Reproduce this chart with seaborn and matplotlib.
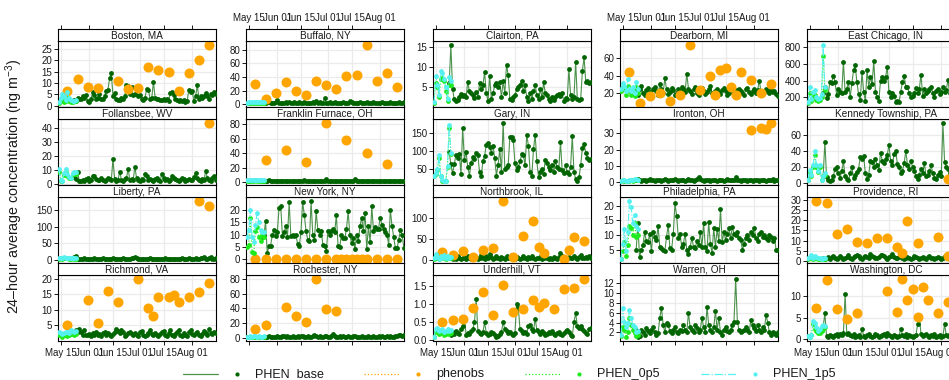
import numpy as np
import pandas as pd
import seaborn as sns
import matplotlib.pyplot as plt
import matplotlib.dates as mdates
from matplotlib.lines import Line2D

sites = ["Boston, MA", "Buffalo, NY", "Clairton, PA", "Dearborn, MI", "East Chicago, IN",
         "Follansbee, WV", "Franklin Furnace, OH", "Gary, IN", "Ironton, OH", "Kennedy Township, PA",
         "Liberty, PA", "New York, NY", "Northbrook, IL", "Philadelphia, PA", "Providence, RI",
         "Richmond, VA", "Rochester, NY", "Underhill, VT", "Warren, OH", "Washington, DC"]

start = pd.Timestamp("2011-05-14")   # day 0
base_first_day = 9                   # PHEN_base runs from May 23
tick_dates = ["2011-05-15", "2011-06-01", "2011-06-15", "2011-07-01", "2011-07-15", "2011-08-01"]

# y axis ticks per site
yticks = {
    "Boston, MA": [0, 5, 10, 15, 20, 25], "Buffalo, NY": [0, 20, 40, 60, 80],
    "Clairton, PA": [5, 10, 15], "Dearborn, MI": [20, 40, 60],
    "East Chicago, IN": [200, 400, 600, 800], "Follansbee, WV": [0, 10, 20, 30, 40],
    "Franklin Furnace, OH": [0, 20, 40, 60, 80], "Gary, IN": [50, 100, 150],
    "Ironton, OH": [0, 10, 20, 30], "Kennedy Township, PA": [0, 20, 40, 60],
    "Liberty, PA": [0, 50, 100, 150], "New York, NY": [0, 5, 10, 15, 20],
    "Northbrook, IL": [0, 50, 100], "Philadelphia, PA": [5, 10, 15, 20],
    "Providence, RI": [0, 5, 10, 15, 20, 25, 30], "Richmond, VA": [5, 10, 15, 20],
    "Rochester, NY": [0, 20, 40, 60, 80], "Underhill, VT": [0.0, 0.5, 1.0, 1.5],
    "Warren, OH": [2, 4, 6, 8, 10, 12], "Washington, DC": [0, 5, 10],
}

# PHEN_base, daily from May 23
phen_base = {
    "Boston, MA": [2.5, 2.2, 3.5, 2.8, 3.0, 4.0, 3.2, 4.6, 2.0, 1.5,
                   3.0, 6.0, 4.5, 2.8, 3.5, 5.0, 3.0, 2.8, 4.0, 6.5,
                   7.0, 12.0, 14.5, 4.0, 5.5, 3.0, 2.5, 2.5, 3.5, 2.8,
                   4.0, 9.0, 8.5, 5.0, 8.0, 4.5, 5.0, 7.5, 4.0, 4.5,
                   3.0, 2.5, 3.5, 7.5, 7.0, 3.0, 3.5, 10.3, 3.5, 3.0,
                   3.0, 2.5, 2.5, 3.0, 2.5, 2.8, 2.2, 5.5, 6.0, 4.5,
                   3.0, 2.5, 2.0, 2.5, 1.8, 2.5, 1.5, 2.0, 7.0, 6.0,
                   6.5, 2.0, 4.0, 9.0, 3.0, 4.0, 3.5, 4.0, 5.5, 4.0,
                   3.0, 5.0, 4.5, 6.0, 5.0],
    "Buffalo, NY": [3.0, 4.5, 2.0, 10.0, 3.0, 2.0, 1.8, 2.5, 3.0, 6.0,
                    2.5, 2.0, 1.8, 2.5, 3.0, 2.2, 2.8, 1.5, 2.0, 3.5,
                    2.5, 2.0, 3.0, 1.8, 2.2, 3.5, 2.5, 2.0, 1.8, 2.5,
                    3.0, 2.5, 4.5, 2.0, 3.0, 2.2, 1.8, 9.0, 2.5, 2.0,
                    2.8, 1.8, 2.2, 3.0, 2.5, 2.0, 1.5, 2.5, 4.0, 2.0,
                    1.8, 2.5, 5.0, 3.0, 2.2, 2.0, 1.8, 2.5, 3.0, 2.0,
                    1.5, 2.5, 3.5, 2.0, 1.8, 2.2, 3.0, 2.5, 2.0, 1.5,
                    2.2, 3.0, 2.5, 2.0, 1.8, 2.5, 3.2, 2.0, 2.5, 1.8,
                    2.2, 3.0, 2.5, 2.0, 2.8],
    "Clairton, PA": [6.0, 15.5, 4.5, 2.0, 1.5, 1.8, 2.5, 3.2, 2.8, 3.0,
                     2.5, 6.3, 4.0, 3.5, 3.0, 2.2, 3.8, 2.5, 6.0, 4.5,
                     5.5, 8.8, 3.5, 1.5, 7.8, 2.0, 3.5, 5.5, 6.0, 5.0,
                     6.2, 2.5, 6.5, 3.5, 10.7, 8.0, 2.0, 1.8, 2.5, 3.0,
                     4.5, 5.0, 5.5, 6.5, 4.0, 5.5, 2.5, 1.5, 3.5, 2.0,
                     4.0, 5.5, 3.0, 2.0, 4.5, 2.5, 6.2, 3.5, 3.0, 2.0,
                     1.5, 2.5, 1.8, 2.5, 3.0, 3.2, 2.8, 3.5, 1.5, 2.2,
                     2.0, 9.5, 3.0, 2.0, 2.5, 11.3, 2.0, 1.8, 2.0, 9.2,
                     12.5, 6.3, 6.5, 6.0, 6.2],
    "Dearborn, MI": [22, 18, 25, 28, 20, 17, 23, 26, 21, 19,
                     24, 27, 22, 18, 30, 25, 20, 37, 24, 19,
                     21, 26, 23, 18, 20, 25, 22, 27, 24, 21,
                     42, 25, 22, 19, 24, 27, 20, 18, 23, 26,
                     22, 19, 21, 24, 28, 20, 18, 22, 25, 21,
                     19, 23, 26, 22, 18, 20, 24, 27, 21, 19,
                     23, 25, 22, 20, 18, 24, 26, 21, 19, 22,
                     25, 20, 23, 34, 22, 19, 21, 24, 22, 20,
                     23, 21, 22, 19, 16],
    "East Chicago, IN": [250, 330, 195, 240, 390, 370, 460, 380, 235, 300,
                         270, 250, 630, 260, 300, 380, 200, 370, 525, 585,
                         380, 240, 170, 505, 270, 160, 525, 330, 440, 360,
                         640, 270, 200, 155, 400, 440, 400, 440, 570, 260,
                         200, 250, 220, 150, 160, 140, 270, 380, 460, 320,
                         330, 250, 200, 215, 250, 310, 250, 300, 475, 220,
                         300, 250, 280, 300, 330, 250, 200, 280, 300, 240,
                         270, 320, 260, 290, 410, 250, 300, 280, 230, 260,
                         300, 260, 280, 240, 300],
    "Follansbee, WV": [5.0, 3.5, 8.5, 2.5, 2.0, 3.0, 2.5, 3.5, 4.0, 2.5,
                       3.0, 5.5, 6.0, 3.5, 2.8, 3.0, 4.5, 3.2, 2.5, 3.0,
                       4.0, 3.5, 2.8, 18.0, 3.5, 2.5, 3.0, 9.0, 3.0, 2.5,
                       3.5, 4.0, 11.0, 3.0, 3.5, 3.0, 12.5, 4.0, 3.0, 2.5,
                       3.5, 3.0, 7.0, 5.5, 3.0, 3.5, 3.0, 2.5, 3.5, 4.0,
                       3.0, 2.5, 7.5, 4.0, 3.0, 3.5, 2.5, 3.0, 6.0, 4.5,
                       3.5, 3.0, 2.5, 3.0, 4.0, 3.5, 2.5, 3.0, 3.5, 2.8,
                       3.0, 5.0, 8.0, 4.0, 3.0, 2.5, 3.5, 3.0, 9.5, 4.0,
                       3.0, 2.5, 4.5, 5.5, 3.0],
    "Franklin Furnace, OH": [1.5, 2.0, 1.2, 1.8, 2.5, 1.5, 1.0, 1.3, 1.8, 1.5,
                             1.2, 1.6, 2.0, 1.4, 1.1, 1.5, 1.8, 1.3, 1.0, 1.6,
                             1.4, 1.2, 1.8, 1.5, 1.3, 2.2, 1.4, 1.2, 1.6, 1.9,
                             1.3, 1.1, 1.5, 1.8, 1.4, 1.2, 1.7, 2.0, 4.5, 1.6,
                             1.3, 1.1, 1.5, 1.8, 1.4, 1.2, 1.6, 1.3, 1.1, 1.5,
                             1.8, 1.4, 1.2, 1.6, 1.3, 4.0, 1.5, 1.2, 1.4, 1.7,
                             1.3, 1.1, 1.5, 1.8, 1.4, 1.2, 1.6, 1.3, 1.1, 1.5,
                             1.8, 1.4, 1.2, 1.6, 1.3, 1.1, 1.5, 1.8, 1.4, 1.2,
                             1.6, 2.0, 1.4, 1.2, 1.5],
    "Gary, IN": [97, 62, 36, 62, 88, 80, 91, 34, 164, 75,
                 97, 55, 30, 65, 82, 78, 95, 88, 40, 28,
                 70, 85, 118, 123, 110, 95, 115, 80, 30, 60,
                 105, 40, 178, 50, 55, 60, 140, 138, 130, 65,
                 45, 55, 70, 90, 88, 60, 145, 115, 40, 30,
                 105, 145, 70, 25, 40, 50, 35, 75, 65, 55,
                 45, 60, 40, 70, 55, 50, 125, 45, 38, 60,
                 40, 35, 55, 143, 40, 20, 15, 25, 60, 108,
                 120, 95, 80, 75, 78],
    "Ironton, OH": [1.5, 1.8, 1.2, 1.0, 1.5, 1.2, 1.0, 1.3, 1.8, 1.5,
                    1.2, 1.0, 1.4, 1.6, 1.2, 1.0, 1.5, 1.8, 1.2, 1.0,
                    1.3, 1.5, 1.2, 1.8, 1.4, 1.0, 1.2, 1.5, 1.3, 1.0,
                    1.6, 2.2, 1.4, 1.2, 1.0, 1.5, 2.0, 3.5, 1.8, 1.2,
                    1.0, 1.4, 1.6, 1.2, 1.0, 1.3, 1.5, 1.2, 1.0, 1.4,
                    1.6, 1.2, 1.0, 1.5, 1.8, 1.3, 1.1, 1.4, 1.6, 3.0,
                    1.5, 1.2, 1.0, 1.3, 1.6, 1.2, 1.0, 1.4, 1.2, 1.0,
                    1.3, 1.5, 1.2, 1.0, 1.4, 1.6, 1.2, 1.0, 1.3, 1.5,
                    1.2, 1.8, 1.0, 1.2, 1.5],
    "Kennedy Township, PA": [9, 52, 7, 3, 2, 4, 8, 18, 20, 12,
                             6, 15, 27, 8, 5, 3, 12, 20, 6, 10,
                             14, 18, 33, 30, 34, 12, 5, 10, 28, 26,
                             20, 30, 22, 16, 38, 28, 25, 30, 35, 48,
                             28, 22, 36, 40, 24, 20, 12, 15, 25, 40,
                             22, 18, 28, 20, 15, 8, 5, 10, 18, 12,
                             25, 8, 10, 15, 22, 12, 6, 5, 10, 14,
                             8, 75, 26, 20, 18, 12, 10, 8, 14, 12,
                             20, 15, 25, 18, 22],
    "Liberty, PA": [8, 13, 3, 2.5, 4, 3, 5, 2.5, 3, 4,
                    3.5, 2.5, 5, 4, 3, 2.5, 4, 6, 3, 2.5,
                    3.5, 4, 3, 5, 4.5, 3, 2.5, 4, 3.5, 6,
                    4, 3, 2.5, 3.5, 5, 7, 10, 6, 4, 3,
                    3.5, 4.5, 3, 2.5, 4, 5.5, 3, 2.5, 3.5, 4,
                    3, 2.5, 4, 3.5, 5, 3, 2.5, 3.5, 4.5, 3,
                    4, 3.5, 2.5, 3, 5, 4, 3, 3.5, 6, 4,
                    3, 4.5, 5, 3.5, 4, 6, 5, 8, 4, 3,
                    5, 9, 4, 3.5, 5],
    "New York, NY": [9, 9.3, 15.5, 2.5, 5.5, 5.5, 10, 11.8, 9.5, 11,
                     21, 21.6, 9.5, 11, 13.5, 9, 23.3, 9.5, 10, 9.5,
                     10, 6.2, 5.5, 11, 23.3, 18, 11.5, 8, 7.5, 23.6,
                     10, 8, 19.5, 12, 10, 11.5, 6, 5.5, 3.5, 11.5,
                     10, 11.5, 12.5, 11, 18, 5.5, 5, 10, 8.5, 8.5,
                     12.5, 19.5, 10, 6.5, 8.5, 4, 10, 7.5, 13.5, 17,
                     11.5, 19, 4, 13.5, 7, 21.6, 11.5, 13, 12.5, 12.5,
                     17, 14, 12.5, 11, 10, 6, 20, 13.5, 9, 4.5,
                     4.5, 8, 12, 10, 4.5],
    "Northbrook, IL": [8, 4, 2, 6, 3, 9, 5, 2, 4, 7,
                       3, 10, 5, 2, 6, 4, 8, 3, 5, 12,
                       6, 3, 9, 4, 15, 8, 3, 6, 10, 4,
                       2, 7, 5, 3, 9, 6, 4, 11, 5, 3,
                       8, 4, 2, 6, 10, 5, 3, 7, 4, 9,
                       5, 2, 6, 4, 8, 3, 5, 10, 4, 2,
                       6, 3, 8, 5, 3, 7, 17, 10, 4, 6,
                       3, 8, 5, 4, 9, 6, 3, 7, 12, 5,
                       4, 8, 6, 10, 5],
    "Philadelphia, PA": [5, 14, 2.5, 5, 6.5, 11, 8, 7.5, 10.5, 4.5,
                         11, 9.5, 8.5, 13, 6, 5.5, 5, 4.5, 9.5, 13.5,
                         5.5, 5, 10.5, 20.8, 16.5, 9, 10.5, 6, 7, 10.5,
                         5, 3.5, 6, 9, 6, 5.5, 8, 6.5, 11, 6,
                         14, 6, 4.5, 14.5, 7, 4, 12.5, 6, 12, 8,
                         19, 7.5, 11, 8.5, 10.5, 12.5, 9, 12.7, 10.5, 10,
                         11, 9, 8.5, 5, 7, 9, 10, 8.5, 11, 10,
                         12.5, 9, 8, 10.5, 11, 9.5, 10, 9, 8.5, 10,
                         9.5, 8, 9, 5, 5],
    "Providence, RI": [1.2, 0.8, 1.5, 2.0, 1.0, 1.8, 2.5, 1.2, 0.8, 1.5,
                       2.2, 1.6, 1.0, 1.4, 2.0, 2.8, 1.5, 1.0, 1.8, 2.4,
                       3.0, 2.2, 1.5, 1.0, 1.8, 2.5, 2.0, 1.2, 3.2, 2.5,
                       1.8, 1.2, 1.5, 2.0, 2.8, 3.0, 2.2, 1.5, 1.0, 1.8,
                       2.5, 3.2, 2.0, 1.5, 1.2, 1.8, 2.2, 1.5, 1.0, 1.5,
                       2.0, 1.2, 0.8, 1.5, 2.5, 1.8, 1.2, 1.0, 1.6, 2.0,
                       1.4, 1.0, 1.8, 2.2, 1.5, 1.2, 0.9, 1.6, 2.0, 1.3,
                       1.0, 1.5, 2.2, 1.8, 1.2, 1.0, 1.6, 2.4, 1.8, 1.2,
                       1.5, 2.0, 1.4, 1.8, 1.5],
    "Richmond, VA": [2.5, 3.5, 2.8, 3.8, 3.0, 1.8, 3.5, 2.0, 1.8, 2.2,
                     1.5, 2.5, 1.8, 2.8, 2.0, 2.2, 1.6, 2.5, 3.0, 1.8,
                     2.5, 2.0, 1.5, 2.2, 2.8, 4.0, 3.2, 2.5, 3.5, 2.8,
                     1.5, 2.0, 2.5, 3.0, 2.2, 1.8, 2.5, 2.0, 1.6, 2.8,
                     3.2, 2.0, 1.5, 1.8, 2.5, 3.5, 2.2, 1.8, 2.5, 2.0,
                     1.5, 2.2, 2.8, 3.2, 2.0, 1.6, 2.5, 3.5, 2.0, 1.5,
                     2.2, 3.0, 3.5, 2.0, 1.6, 2.5, 2.0, 1.5, 2.8, 3.5,
                     2.2, 1.8, 2.5, 3.0, 2.0, 1.5, 2.2, 3.2, 2.5, 2.0,
                     3.8, 2.5, 2.2, 3.0, 2.5],
    "Rochester, NY": [2.0, 2.5, 1.5, 2.0, 3.0, 2.2, 1.8, 2.5, 2.0, 3.0,
                      2.5, 2.0, 3.5, 2.8, 2.2, 3.0, 2.5, 2.0, 3.8, 2.5,
                      2.0, 3.0, 2.2, 2.8, 3.5, 2.5, 2.0, 3.0, 2.5, 2.2,
                      3.2, 4.0, 2.8, 2.2, 3.0, 2.5, 2.0, 2.8, 3.5, 2.5,
                      2.0, 3.0, 6.0, 3.0, 2.5, 2.0, 3.0, 2.2, 2.8, 2.0,
                      2.5, 3.2, 2.5, 2.0, 2.8, 3.5, 2.2, 2.0, 2.5, 3.0,
                      2.2, 1.8, 2.5, 3.0, 2.0, 2.5, 3.2, 2.5, 2.0, 2.8,
                      2.2, 3.0, 2.5, 2.0, 2.8, 2.2, 3.0, 2.5, 2.0, 2.8,
                      3.5, 4.5, 5.0, 3.5, 4.0],
    "Underhill, VT": [0.20, 0.15, 0.22, 0.18, 0.25, 0.20, 0.18, 0.30, 0.40, 0.65,
                      0.15, 0.20, 0.18, 0.25, 0.30, 0.50, 1.15, 0.25, 0.20, 0.18,
                      0.22, 0.50, 0.20, 0.15, 0.18, 0.22, 0.20, 0.15, 0.10, 0.12,
                      0.18, 0.22, 0.50, 0.30, 0.25, 0.20, 0.22, 0.18, 0.15, 0.20,
                      1.00, 0.90, 0.30, 0.25, 0.20, 0.22, 0.18, 0.40, 0.42, 0.30,
                      0.25, 0.60, 0.28, 0.22, 0.18, 0.25, 0.20, 0.15, 0.18, 0.22,
                      0.20, 0.25, 0.18, 0.15, 0.20, 0.22, 0.18, 0.15, 0.20, 0.25,
                      0.28, 0.22, 0.15, 0.12, 0.50, 0.75, 0.40, 0.35, 0.38, 0.30,
                      0.25, 0.20, 0.18, 0.30, 0.35],
    "Warren, OH": [2.5, 1.0, 1.2, 2.5, 2.0, 1.5, 2.8, 2.2, 1.8, 2.5,
                   3.0, 2.0, 1.5, 1.8, 5.0, 7.0, 3.5, 2.0, 4.0, 3.5,
                   2.2, 1.8, 2.5, 3.0, 2.0, 1.8, 2.5, 2.2, 3.5, 2.5,
                   2.0, 6.0, 3.0, 2.5, 2.0, 3.5, 2.8, 2.0, 2.5, 5.0,
                   3.0, 2.0, 7.2, 3.5, 2.5, 2.0, 3.0, 6.4, 2.5, 5.0,
                   2.0, 1.5, 2.5, 3.0, 2.2, 2.0, 2.5, 3.5, 4.2, 12.8,
                   4.2, 2.5, 2.0, 2.2, 2.5, 3.0, 2.5, 2.0, 4.5, 3.5,
                   2.8, 2.2, 3.5, 2.5, 2.0, 3.0, 2.5, 5.5, 4.0, 2.0,
                   1.5, 2.0, 1.8, 1.5, 2.0],
    "Washington, DC": [3.0, 6.0, 0.8, 0.5, 1.0, 0.8, 0.6, 1.0, 1.2, 0.8,
                       1.2, 1.0, 1.5, 10.5, 1.2, 1.5, 1.0, 0.8, 1.2, 0.5,
                       0.8, 1.0, 0.6, 2.5, 0.8, 0.6, 1.0, 1.2, 0.8, 0.5,
                       0.8, 1.2, 1.0, 0.5, 0.8, 1.0, 1.2, 0.8, 1.5, 1.0,
                       0.8, 0.6, 1.0, 0.8, 0.5, 0.8, 2.5, 1.0, 0.8, 1.2,
                       0.6, 1.0, 0.8, 0.5, 0.8, 1.0, 3.5, 5.5, 1.2, 0.8,
                       1.0, 1.2, 0.8, 0.6, 1.0, 0.8, 1.2, 0.5, 0.8, 1.0,
                       0.6, 0.8, 3.5, 1.0, 0.8, 1.2, 1.0, 0.8, 1.5, 1.0,
                       0.8, 1.2, 1.0, 0.8, 1.0],
}

# PHEN_0p5 and PHEN_1p5, daily May 14 - May 24
phen_0p5 = {
    "Boston, MA": [1.0, 2.0, 3.0, 1.5, 2.0, 3.5, 2.0, 1.5, 1.5, 1.8, 2.0],
    "Buffalo, NY": [1.8, 2.2, 2.4, 2.0, 2.3, 1.9, 2.1, 2.4, 2.0, 2.2, 2.3],
    "Clairton, PA": [1.0, 6.0, 5.0, 2.5, 7.0, 7.2, 6.5, 4.0, 1.5, 5.5, 5.5],
    "Dearborn, MI": [22, 27, 24, 18, 28, 22, 18, 23, 16, 27, 20],
    "East Chicago, IN": [130, 250, 160, 210, 230, 170, 160, 170, 200, 700, 290],
    "Follansbee, WV": [9.0, 2.5, 2.0, 6.5, 8.5, 6.0, 4.0, 4.0, 7.0, 7.5, 7.0],
    "Franklin Furnace, OH": [1.5, 1.8, 2.0, 1.7, 1.9, 2.1, 1.8, 1.9, 2.0, 1.7, 1.8],
    "Gary, IN": [28, 35, 45, 80, 28, 16, 14, 15, 55, 165, 90],
    "Ironton, OH": [0.8, 1.2, 1.0, 0.6, 0.8, 1.0, 1.2, 1.0, 1.4, 1.8, 1.2],
    "Kennedy Township, PA": [3, 14, 9, 20, 35, 20, 14, 20, 3, 8, 10],
    "Liberty, PA": [4, 5, 4, 6, 5, 5.5, 4, 4.5, 5.5, 4.5, 4],
    "New York, NY": [5, 6, 17, 3, 2.5, 11.5, 13, 9, 7.5, 10, 9],
    "Northbrook, IL": [3, 10, 6, 2, 7, 4, 9, 3, 7, 4, 5],
    "Philadelphia, PA": [1.8, 4.5, 7.5, 3, 6.5, 13, 12.5, 10, 14, 9.5, 10],
    "Providence, RI": [1.0, 1.5, 2.0, 1.0, 1.6, 1.2, 0.9, 1.1, 0.8, 1.0, 0.9],
    "Richmond, VA": [2.0, 1.8, 1.2, 1.8, 2.0, 1.6, 1.8, 2.4, 2.2, 2.0, 2.3],
    "Rochester, NY": [1.5, 1.8, 2.0, 1.6, 1.9, 2.2, 1.8, 2.0, 1.8, 1.6, 1.9],
    "Underhill, VT": [0.08, 0.22, 0.25, 0.18, 0.20, 0.22, 0.15, 0.18, 0.22, 0.18, 0.20],
    "Warren, OH": [1.2, 3.0, 2.5, 1.0, 2.0, 5.0, 3.5, 2.5, 1.8, 1.3, 1.5],
    "Washington, DC": [0.8, 0.5, 1.0, 3.5, 2.5, 2.0, 1.5, 1.5, 2.0, 2.5, 2.8],
}
phen_1p5 = {
    "Boston, MA": [1.5, 3.5, 5.2, 4.0, 2.5, 6.0, 3.5, 2.5, 2.0, 2.2, 2.5],
    "Buffalo, NY": [2.5, 3.0, 3.2, 2.8, 3.0, 2.6, 2.8, 3.1, 2.7, 2.9, 3.0],
    "Clairton, PA": [1.2, 7.8, 5.5, 3.0, 9.0, 8.5, 7.0, 5.0, 2.0, 7.5, 6.5],
    "Dearborn, MI": [25, 32, 28, 22, 36, 25, 22, 27, 20, 33, 25],
    "East Chicago, IN": [140, 325, 180, 260, 290, 200, 185, 190, 240, 825, 320],
    "Follansbee, WV": [10.5, 3.0, 2.5, 8.0, 10.5, 7.5, 5.0, 4.5, 8.0, 9.0, 8.5],
    "Franklin Furnace, OH": [2.5, 2.8, 3.0, 2.6, 2.9, 3.1, 2.7, 2.8, 3.0, 2.6, 2.7],
    "Gary, IN": [30, 38, 48, 88, 30, 17, 15, 16, 58, 172, 95],
    "Ironton, OH": [1.0, 1.5, 1.2, 0.8, 1.0, 1.3, 1.5, 1.2, 1.8, 2.2, 1.5],
    "Kennedy Township, PA": [4, 16, 10, 22, 40, 22, 15, 23, 4, 9, 12],
    "Liberty, PA": [6, 7, 5.5, 8, 6.5, 7, 5, 6, 7.5, 6, 5.5],
    "New York, NY": [9, 12, 20, 9, 7, 14, 19, 15, 12, 11, 11],
    "Northbrook, IL": [5, 14, 8, 3, 10, 6, 12, 4, 9, 5, 7],
    "Philadelphia, PA": [2, 7, 12, 4.5, 11, 21.5, 19.5, 14, 17, 13, 12],
    "Providence, RI": [1.5, 2.0, 3.0, 1.5, 2.2, 1.8, 1.2, 1.6, 1.0, 1.4, 1.2],
    "Richmond, VA": [2.8, 2.5, 2.2, 2.6, 3.0, 2.8, 2.5, 3.5, 3.2, 3.0, 3.3],
    "Rochester, NY": [2.0, 2.5, 2.8, 2.2, 2.6, 3.0, 2.4, 2.8, 2.5, 2.2, 2.6],
    "Underhill, VT": [0.10, 0.30, 0.35, 0.25, 0.28, 0.30, 0.22, 0.25, 0.30, 0.25, 0.28],
    "Warren, OH": [1.5, 7.0, 4.2, 3.0, 4.0, 6.5, 5.0, 3.5, 3.0, 2.0, 2.2],
    "Washington, DC": [0.8, 0.6, 1.0, 4.3, 3.8, 2.8, 2.0, 2.3, 3.0, 3.3, 3.0],
}

# phenobs: sampling day (days after May 14) and value
obs_day = {
    "Boston, MA": [5, 11, 17, 23, 35, 41, 47, 53, 59, 65, 71, 77, 83, 89],
    "Buffalo, NY": [5, 11, 17, 23, 29, 35, 41, 47, 53, 59, 65, 71, 77, 83, 89],
    "Dearborn, MI": [5, 11, 17, 23, 29, 35, 41, 47, 53, 56, 59, 62, 65, 68, 71, 77, 83, 89],
    "Follansbee, WV": [89],
    "Franklin Furnace, OH": [11, 23, 35, 47, 59, 71, 83],
    "Ironton, OH": [77, 83, 86, 89],
    "Kennedy Township, PA": [83],
    "Liberty, PA": [83, 89],
    "New York, NY": [5, 11, 17, 23, 29, 35, 41, 47, 53, 56, 59, 62, 65, 68, 71, 77, 83, 89],
    "Northbrook, IL": [5, 11, 17, 23, 29, 35, 41, 47, 53, 59, 62, 65, 77, 80, 83, 89],
    "Providence, RI": [5, 11, 17, 23, 29, 35, 41, 47, 53, 56, 59, 65, 77, 83],
    "Richmond, VA": [5, 17, 23, 29, 35, 47, 53, 56, 59, 65, 68, 71, 77, 83, 89],
    "Rochester, NY": [5, 11, 23, 29, 35, 41, 47, 53],
    "Underhill, VT": [5, 11, 17, 23, 29, 35, 41, 47, 53, 59, 62, 65, 71, 77, 83, 89],
    "Washington, DC": [5, 11, 17, 23, 29, 47, 53, 56, 59, 62, 65, 68, 71, 77, 83],
}
obs_val = {
    "Boston, MA": [6.5, 11.8, 8.0, 7.6, 10.7, 7.3, 7.6, 16.9, 15.6, 15.0, 6.5, 14.3, 20.2, 26.6],
    "Buffalo, NY": [29.4, 8.1, 16.7, 32.9, 19.2, 14.2, 34.4, 28.4, 21.8, 41.0, 43.5, 86.6, 34.4, 45.6, 25.3],
    "Dearborn, MI": [44, 8, 16, 20, 11, 17, 75, 23, 40, 18, 46, 49, 27, 18, 44, 35, 20, 30],
    "Follansbee, WV": [43.6],
    "Franklin Furnace, OH": [30.6, 44.7, 28.2, 81.4, 58.8, 40.5, 25.0],
    "Ironton, OH": [32, 33, 32.5, 36],
    "Kennedy Township, PA": [5],
    "Liberty, PA": [177, 162],
    "New York, NY": [0] * 18,
    "Northbrook, IL": [20, 11, 21.6, 7, 24, 29.6, 139, 7, 57.6, 92, 32, 16, 3, 23, 55, 45.6],
    "Providence, RI": [29.3, 28.5, 13.2, 15.6, 9.4, 8.7, 11.5, 11.5, 6.6, 4.1, 19.4, 9.0, 11.9, 2.5],
    "Richmond, VA": [5.0, 13.2, 5.7, 15.9, 12.4, 19.8, 10.5, 8.0, 14.2, 14.0, 14.8, 12.6, 14.0, 15.6, 18.6],
    "Rochester, NY": [12.8, 17.4, 41.6, 30.0, 22.4, 79.0, 39.3, 37.0],
    "Underhill, VT": [0.50, 0.55, 0.58, 0.88, 1.35, 0.69, 1.52, 0.77, 0.86, 1.12, 0.93, 1.02, 0.86, 1.41, 1.44, 1.69],
    "Washington, DC": [7.3, 13.8, 7.1, 4.8, 6.1, 11.3, 6.3, 13.9, 9.1, 11.7, 5.3, 12.1, 9.2, 6.0, 8.7],
}

c_base, c_obs, c_05, c_15 = "#006400", "#FFA500", "#1EEB1E", "#55F0F0"

sns.set_style("white")
plt.rcParams["font.family"] = ["Liberation Sans", "DejaVu Sans"]
plt.rcParams["mathtext.fontset"] = "custom"
plt.rcParams["mathtext.rm"] = "Liberation Sans"
plt.rcParams["mathtext.it"] = "Liberation Sans:italic"

W, H = 949, 380
fig = plt.figure(figsize=(W / 100, H / 100), dpi=100)
fig.patch.set_facecolor("white")

col_left = [58, 246, 433, 620, 807]
pw, strip_h, panel_h = 158, 12, 66
row_top = [29.3 + 78 * r for r in range(4)]


def box(x, y, w, h):
    return [x / W, 1 - (y + h) / H, w / W, h / H]


def day(d):
    return start + pd.Timedelta(days=d)


xlim = (day(-0.6), day(93.1))
xt = pd.to_datetime(tick_dates)
txt_col = "#1a1a1a"

for i, site in enumerate(sites):
    r, c = divmod(i, 5)
    ax = fig.add_axes(box(col_left[c], row_top[r] + strip_h, pw, panel_h))
    sax = fig.add_axes(box(col_left[c], row_top[r], pw, strip_h))

    bv = phen_base[site]
    bd = [day(base_first_day + k) for k in range(len(bv))]
    sd = [day(k) for k in range(len(phen_0p5[site]))]
    allv = list(bv) + list(phen_0p5[site]) + list(phen_1p5[site])

    sns.lineplot(x=bd, y=bv, ax=ax, color=c_base, lw=0.8, alpha=0.7, estimator=None)
    sns.scatterplot(x=bd, y=bv, ax=ax, color=c_base, s=12, linewidth=0, zorder=3)
    if site in obs_day:
        od = [day(d) for d in obs_day[site]]
        sns.scatterplot(x=od, y=obs_val[site], ax=ax, color=c_obs, s=52, linewidth=0, zorder=4)
        allv += list(obs_val[site])
    sns.lineplot(x=sd, y=phen_0p5[site], ax=ax, color=c_05, lw=0.8, ls=":", estimator=None, zorder=5)
    sns.scatterplot(x=sd, y=phen_0p5[site], ax=ax, color=c_05, s=12, linewidth=0, zorder=5)
    sns.lineplot(x=sd, y=phen_1p5[site], ax=ax, color=c_15, lw=0.8, ls="-.", estimator=None, zorder=6)
    sns.scatterplot(x=sd, y=phen_1p5[site], ax=ax, color=c_15, s=12, linewidth=0, zorder=6)

    lo, hi = min(allv), max(allv)
    pad = 0.07 * (hi - lo)
    ax.set_ylim(lo - pad, hi + pad)
    ax.set_xlim(xlim)
    ax.set_xlabel("")
    ax.set_ylabel("")

    yt = yticks[site]
    ax.set_yticks(yt)
    if all(float(t).is_integer() for t in yt):
        ax.set_yticklabels([str(int(t)) for t in yt])
    else:
        ax.set_yticklabels(["%.1f" % t for t in yt])
    ax.set_xticks(xt)
    ax.grid(True, color="#EBEBEB", lw=0.9)
    ax.set_axisbelow(True)
    ax.tick_params(axis="y", left=True, length=3.2, width=0.7, pad=1, labelsize=7,
                   colors=txt_col)
    if r == 3:
        ax.tick_params(axis="x", bottom=True, length=3, width=0.7, pad=1.5, labelsize=7,
                       colors=txt_col, labelbottom=(c % 2 == 0))
        ax.xaxis.set_major_formatter(mdates.DateFormatter("%b %d"))
    else:
        ax.tick_params(axis="x", bottom=False, labelbottom=False)
    for sp in ax.spines.values():
        sp.set_linewidth(0.8)
        sp.set_color("black")

    # strip above each panel
    sax.set_facecolor("white")
    sax.set_xlim(xlim)
    sax.set_ylim(0, 1)
    sax.set_yticks([])
    sax.set_xticks(xt)
    sax.xaxis.set_major_formatter(mdates.DateFormatter("%b %d"))
    if r == 0:
        sax.tick_params(axis="x", top=True, bottom=False, labelbottom=False,
                        labeltop=(c % 2 == 1), length=3, width=0.7, pad=1.5,
                        labelsize=7, colors=txt_col)
    else:
        sax.tick_params(axis="x", top=False, bottom=False, labelbottom=False, labeltop=False)
    for sp in sax.spines.values():
        sp.set_linewidth(0.8)
        sp.set_color("black")
    sax.text(0.5, 0.45, site, transform=sax.transAxes, ha="center", va="center",
             fontsize=7.2, color=txt_col)

fig.text(14.5 / W, 1 - 186 / H, "24\u2013hour average concentration (ng m$^{-3}$)",
         rotation=90, ha="center", va="center", fontsize=10.3, color=txt_col)

# legend along the bottom
yl = 1 - 374 / H
items = [(183, c_base, "-", "PHEN_base"), (364, c_obs, ":", "phenobs"),
         (525, c_05, ":", "PHEN_0p5"), (701, c_15, "-.", "PHEN_1p5")]
for x0, col, ls, lab in items:
    fig.add_artist(Line2D([x0 / W, (x0 + 35) / W], [yl, yl], color=col, lw=0.9, ls=ls,
                          alpha=0.7 if ls == "-" else 1.0))
    fig.add_artist(Line2D([(x0 + 54) / W], [yl], marker="o", ms=3.0, color=col, mec="none"))
    fig.text((x0 + 72) / W, yl, lab, ha="left", va="center", fontsize=9, color=txt_col)

fig.savefig("out.png", dpi=100)
